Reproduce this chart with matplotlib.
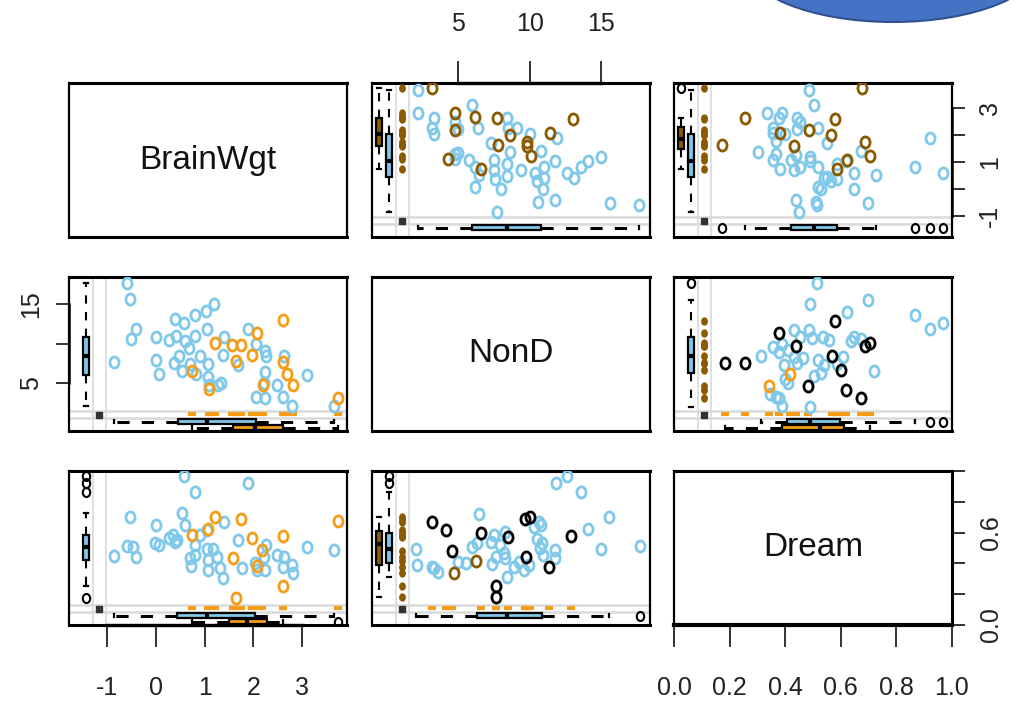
import numpy as np
import matplotlib.pyplot as plt
from matplotlib import font_manager
from matplotlib.markers import MarkerStyle
from matplotlib.patches import Ellipse
from matplotlib.path import Path
from matplotlib.transforms import Affine2D

# --- sleep data (log10 BrainWgt, NonD, Dream), imputed values flagged ---------
names = ['BrainWgt', 'NonD', 'Dream']
limits = [(-1.78, 3.92), (-1.0, 18.4), (-0.18, 0.92)]

# BrainWgt vs NonD, both observed
bw_nd_bw = [-0.60, -0.53, -0.41, -0.50, -0.85, 0.00, 0.00, 0.06, 0.28, 0.39, 0.41, 0.58,
            0.60, 0.69, 0.37, 0.48, 0.53, 0.71, 0.80, 0.80, 0.91, 0.82, 1.03, 1.04, 1.19,
            1.08, 1.08, 1.10, 1.28, 1.33, 1.40, 1.38, 1.69, 1.90, 2.05, 2.05, 2.24, 2.26,
            2.24, 2.22, 2.24, 2.49, 2.63, 2.61, 2.80, 3.10, 3.65]
bw_nd_nd = [17.6, 15.6, 11.8, 10.6, 7.7, 10.9, 8.0, 6.2, 10.5, 13.1, 11.0, 12.6,
            10.4, 9.4, 7.6, 8.4, 6.5, 7.5, 13.6, 11.0, 8.4, 6.2, 14.1, 11.8, 15.0,
            7.5, 5.8, 4.8, 4.8, 5.0, 10.8, 8.6, 7.3, 11.9, 10.0, 3.3, 9.1, 8.5,
            6.4, 5.0, 3.2, 4.8, 8.4, 3.3, 2.2, 6.0, 2.2]
# NonD imputed
bw_ndimp_bw = [1.21, 1.57, 1.74, 1.64, 1.98, 2.07, 2.60, 2.61, 2.68, 2.82, 2.19, 1.10, 0.75, 3.74]
bw_ndimp_nd = [10.1, 9.8, 9.8, 7.8, 8.6, 11.4, 13.0, 7.7, 6.2, 4.8, 4.8, 4.3, 6.6, 3.2]

# BrainWgt vs Dream, both observed
bw_dr_bw = [0.58, 0.80, 1.89, -0.53, 0.00, 0.53, 0.60, 1.40, -0.60, -0.47, -0.41, -0.85,
            -0.02, 0.07, 0.28, 0.36, 0.43, 0.39, 0.91, 1.04, 0.80, 0.80, 0.70, 0.73,
            1.04, 1.18, 1.08, 1.08, 1.25, 1.31, 1.38, 1.69, 1.76, 2.03, 2.07, 2.22,
            2.26, 2.24, 2.49, 2.63, 2.61, 2.80, 2.82, 3.10, 3.65]
bw_dr_dr = [0.885, 0.772, 0.832, 0.589, 0.534, 0.618, 0.534, 0.558, 0.384, 0.380, 0.303, 0.313,
            0.403, 0.391, 0.440, 0.463, 0.427, 0.415, 0.463, 0.499, 0.391, 0.320, 0.296, 0.241,
            0.360, 0.360, 0.284, 0.213, 0.303, 0.225, 0.153, 0.427, 0.225, 0.260, 0.213, 0.308,
            0.391, 0.213, 0.320, 0.308, 0.237, 0.249, 0.189, 0.375, 0.356]
# Dream imputed
bw_drimp_bw = [1.21, 1.74, 1.08, 0.75, 1.98, 2.60, 2.17, 1.59, 2.07, 2.61, 1.64, 3.74]
bw_drimp_dr = [0.594, 0.575, 0.503, 0.463, 0.440, 0.456, 0.356, 0.296, 0.241, 0.099, 0.010, 0.563]

# NonD vs Dream, both observed
nd_dr_nd = [11.83, 12.59, 13.59, 6.50, 15.53, 14.05, 17.68, 14.98, 2.06, 2.11, 3.17, 3.33,
            3.60, 5.02, 5.53, 5.99, 6.34, 7.27, 7.50, 7.34, 7.62, 7.96, 8.19, 8.31, 8.31,
            8.43, 8.89, 9.24, 9.58, 9.93, 10.28, 10.63, 10.81, 10.51, 10.86, 10.74, 10.90,
            11.78, 11.74]
nd_dr_dr = [0.832, 0.885, 0.772, 0.613, 0.589, 0.503, 0.384, 0.360, 0.360, 0.249, 0.237, 0.225,
            0.200, 0.272, 0.260, 0.375, 0.403, 0.415, 0.463, 0.256, 0.308, 0.391, 0.332, 0.296,
            0.487, 0.165, 0.237, 0.272, 0.213, 0.249, 0.522, 0.558, 0.534, 0.432, 0.408,
            0.368, 0.320, 0.356, 0.296]
# NonD and Dream both imputed
nd_dr_both_nd = [3.17, 4.19, 4.61, 6.64, 8.50, 9.70, 10.05, 9.75, 11.37, 12.89, 7.62, 7.62]
nd_dr_both_dr = [0.558, 0.499, 0.351, 0.480, 0.446, 0.575, 0.594, 0.303, 0.237, 0.456, 0.099, 0.022]
# only NonD imputed
nd_dr_ndimp_nd = [6.23, 4.72]
nd_dr_ndimp_dr = [0.280, 0.194]

SKY = '#80C8EA'
ORANGE = '#F59D18'
BROWN = '#8B5A00'
GREY = '#DADADA'

available = {f.name for f in font_manager.fontManager.ttflist}
NARROW = 'Liberation Sans Narrow' if 'Liberation Sans Narrow' in available else 'Liberation Sans'
REGULAR = 'Liberation Sans'

# slightly tall open circle, like R's pch = 1 on a stretched device
OVAL = MarkerStyle(Path.unit_circle().transformed(Affine2D().scale(0.82, 1.0)))


def build_pair(groups):
    a, b, ia, ib = [], [], [], []
    for va, vb, fa, fb in groups:
        a += list(va)
        b += list(vb)
        ia += [fa] * len(va)
        ib += [fb] * len(vb)
    return np.array(a), np.array(b), np.array(ia), np.array(ib)


pairs = {
    (0, 1): build_pair([(bw_nd_bw, bw_nd_nd, False, False),
                        (bw_ndimp_bw, bw_ndimp_nd, False, True)]),
    (0, 2): build_pair([(bw_dr_bw, bw_dr_dr, False, False),
                        (bw_drimp_bw, bw_drimp_dr, False, True)]),
    (1, 2): build_pair([(nd_dr_nd, nd_dr_dr, False, False),
                        (nd_dr_ndimp_nd, nd_dr_ndimp_dr, True, False),
                        (nd_dr_both_nd, nd_dr_both_dr, True, True)]),
}


def r_box(ax, vals, pos, orient, fill, width):
    wl = 1.5 if orient == 'vertical' else 2.2
    ax.boxplot(vals, positions=[pos], widths=width, orientation=orient,
               patch_artist=True, manage_ticks=False,
               boxprops=dict(facecolor=fill, edgecolor='black', linewidth=1.6),
               whiskerprops=dict(color='black', linewidth=wl, linestyle=(0, (4, 4))),
               capprops=dict(color='black', linewidth=1.6),
               medianprops=dict(color='black', linewidth=3),
               flierprops=dict(marker=OVAL, markerfacecolor='none', markeredgecolor='black',
                               markersize=6.5, markeredgewidth=1.5),
               zorder=3)


def margin_panel(ax, x, y, xi, yi, xlim, ylim):
    fx = lambda f: xlim[0] + f * (xlim[1] - xlim[0])
    fy = lambda f: ylim[0] + f * (ylim[1] - ylim[0])
    for f in (0.086, 0.133):
        ax.axvline(fx(f), color=GREY, lw=1.2, zorder=1)
        ax.axhline(fy(f), color=GREY, lw=1.8, zorder=1)

    # scatter: observed first, imputed on top
    groups = [(~xi & ~yi, SKY), (xi & ~yi, BROWN), (~xi & yi, ORANGE), (xi & yi, 'black')]
    for mask, col in groups:
        if mask.any():
            ax.plot(x[mask], y[mask], ls='none', marker=OVAL, mfc='none', mec=col,
                    ms=8, mew=2.0, zorder=4)

    # imputed values shown in the margins
    if xi.any():
        ax.plot(np.full(xi.sum(), fx(0.108)), y[xi], ls='none', marker=OVAL,
                color=BROWN, ms=6, mew=0, zorder=3)
    if yi.any():
        ax.plot(x[yi], np.full(yi.sum(), fy(0.108)), '_', color=ORANGE, ms=6, mew=3, zorder=3)
    ax.plot([fx(0.108)], [fy(0.105)], 's', color='#333333', ms=4, zorder=3)

    # boxplots of the other variable, split by imputation status
    vw = 0.024 * (xlim[1] - xlim[0])
    hw = 0.035 * (ylim[1] - ylim[0])
    r_box(ax, y[~xi], fx(0.061), 'vertical', SKY, vw)
    if (xi & ~yi).any():
        r_box(ax, y[xi], fx(0.025), 'vertical', BROWN, vw)
    r_box(ax, x[~yi], fy(0.06), 'horizontal', SKY, hw)
    if (yi & ~xi).any():
        r_box(ax, x[yi], fy(0.022), 'horizontal', ORANGE, hw)

    ax.set_xlim(xlim)
    ax.set_ylim(ylim)


fig = plt.figure(figsize=(10.17, 7.03), dpi=100)
W, H = 1017, 703
col_x = [69, 372, 674]
row_y = [83, 277, 471]
pw, ph = 278, 154

axes = [[None] * 3 for _ in range(3)]
for r in range(3):
    for c in range(3):
        ax = fig.add_axes([col_x[c] / W, 1 - (row_y[r] + ph) / H, pw / W, ph / H])
        axes[r][c] = ax
        if r == c:
            ax.set_xlim(0, 1)
            ax.set_ylim(0, 1)
            ax.text(0.5, 0.5, names[r], ha='center', va='center', fontsize=24,
                    family=NARROW, color='#111111')
        else:
            i, j = min(r, c), max(r, c)
            a, b, ia, ib = pairs[(i, j)]
            if c < r:
                x, y, xi, yi = a, b, ia, ib
            else:
                x, y, xi, yi = b, a, ib, ia
            margin_panel(ax, x, y, xi, yi, limits[c], limits[r])
        ax.set_xticks([])
        ax.set_yticks([])
        for side in ('top', 'bottom'):
            ax.spines[side].set_linewidth(2.2)
        for side in ('left', 'right'):
            ax.spines[side].set_linewidth(1.6)

XT = 18
YT = 18
xtick = dict(direction='out', length=15.8, width=1.3, colors='#222222')
ytick = dict(direction='out', length=9.5, width=1.3, colors='#222222')

# top axis: NonD
ax = axes[0][1]
ticks = [5, 10, 15]
ax.xaxis.set_ticks_position('top')
ax.set_xticks(ticks, labels=[str(t) for t in ticks], fontsize=XT, family=NARROW)
ax.tick_params(axis='x', pad=18, **xtick)
ax.plot([ticks[0], ticks[-1]], [1, 1], transform=ax.get_xaxis_transform(),
        color='black', lw=2.4, clip_on=False)

# left axis: NonD
ax = axes[1][0]
ax.set_yticks(ticks, labels=['5', '', '15'], fontsize=YT, family=REGULAR,
              rotation=90, va='center')
ax.tick_params(axis='y', pad=9, **ytick)
ax.plot([0, 0], [ticks[0], ticks[-1]], transform=ax.get_yaxis_transform(),
        color='black', lw=1.8, clip_on=False)

# right axis: BrainWgt
ax = axes[0][2]
bticks = [-1, 0, 1, 2, 3]
ax.yaxis.set_ticks_position('right')
ax.set_yticks(bticks, labels=['-1', '', '1', '', '3'], fontsize=YT, family=REGULAR,
              rotation=90, va='center')
ax.tick_params(axis='y', pad=9, **ytick)
ax.plot([1, 1], [bticks[0], bticks[-1]], transform=ax.get_yaxis_transform(),
        color='black', lw=1.8, clip_on=False)

# bottom axis: BrainWgt
ax = axes[2][0]
ax.set_xticks(bticks, labels=[str(t) for t in bticks], fontsize=XT, family=NARROW)
ax.tick_params(axis='x', pad=21, **xtick)
ax.plot([bticks[0], bticks[-1]], [0, 0], transform=ax.get_xaxis_transform(),
        color='black', lw=2.4, clip_on=False)

# bottom and right axes of the Dream panel
ax = axes[2][2]
uticks = [0.0, 0.2, 0.4, 0.6, 0.8, 1.0]
ax.set_xticks(uticks, labels=[f'{t:.1f}' for t in uticks], fontsize=XT, family=NARROW)
ax.tick_params(axis='x', pad=21, **xtick)
ax.yaxis.set_ticks_position('right')
ax.set_yticks(uticks, labels=['0.0', '', '', '0.6', '', ''], fontsize=YT, family=REGULAR,
              rotation=90, va='center')
ax.tick_params(axis='y', pad=10, **ytick)
ax.spines['bottom'].set_linewidth(3)
ax.spines['right'].set_linewidth(2.2)

# callout shape in the top-right corner
fig.add_artist(Ellipse((893 / W, 1 + 40 / H), 300 / W, 124 / H, transform=fig.transFigure,
                       facecolor='#4472C4', edgecolor='#2F528F', lw=1.5, clip_on=False))

fig.savefig('out.png', dpi=100)
